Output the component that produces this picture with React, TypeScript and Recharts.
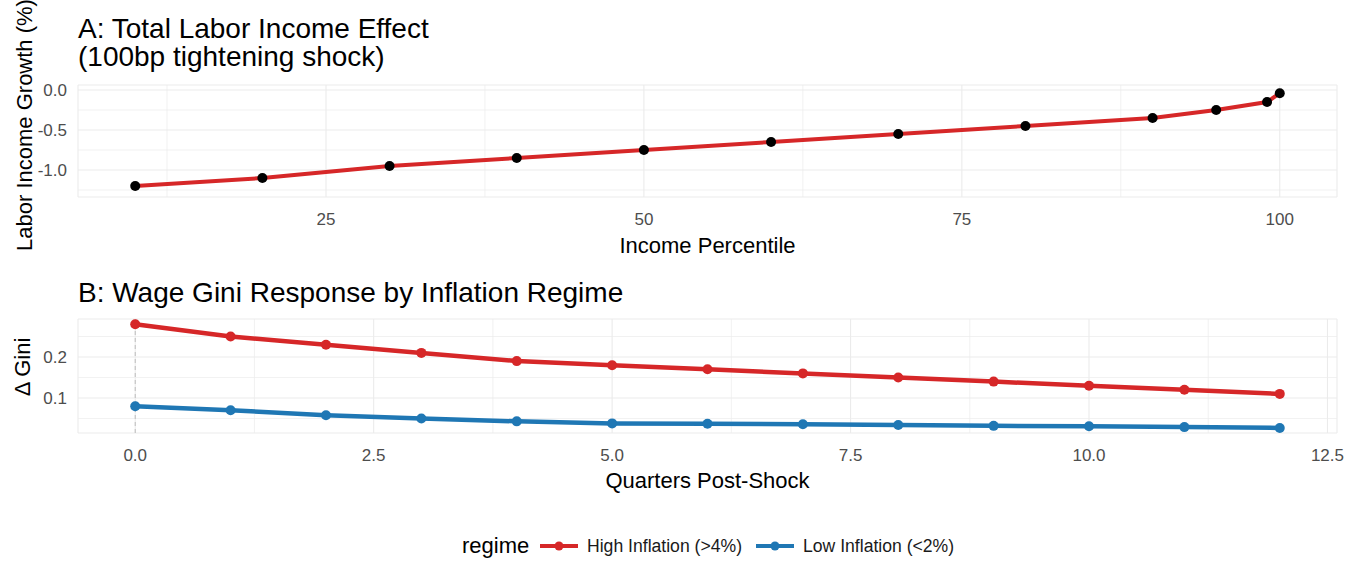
import React from 'react';
import { LineChart, Line, XAxis, YAxis, CartesianGrid, ReferenceLine } from 'recharts';

const FONT = '"Liberation Sans", Arial, sans-serif';

// Panel A: labor income growth by income percentile
const percentiles = [10, 20, 30, 40, 50, 60, 70, 80, 90, 95, 99, 100];
const laborIncomeGrowth = [-1.2, -1.1, -0.95, -0.85, -0.75, -0.65, -0.55, -0.45, -0.35, -0.25, -0.15, -0.04];

// Panel B: wage Gini response by regime
const quarters = [0, 1, 2, 3, 4, 5, 6, 7, 8, 9, 10, 11, 12];
const highInflation = [0.28, 0.25, 0.23, 0.21, 0.19, 0.18, 0.17, 0.16, 0.15, 0.14, 0.13, 0.12, 0.11];
const lowInflation = [0.08, 0.07, 0.058, 0.05, 0.043, 0.038, 0.037, 0.036, 0.034, 0.032, 0.031, 0.029, 0.027];

// ticks (major get labels + grid, minor only grid)
const pctlTicks = [25, 50, 75, 100];
const pctlMinor = [12.5, 37.5, 62.5, 87.5];
const growthTicks = [-1, -0.5, 0];
const growthMinor = [-1.25, -0.75, -0.25];
const quarterTicks = [0, 2.5, 5, 7.5, 10, 12.5];
const quarterMinor = [1.25, 3.75, 6.25, 8.75, 11.25];
const giniTicks = [0.1, 0.2];
const giniMinor = [0.05, 0.15, 0.25];

const regimes = [
  { key: 'high', name: 'High Inflation (>4%)', color: '#d62728' },
  { key: 'low', name: 'Low Inflation (<2%)', color: '#1f77b4' },
];

const incomeData = percentiles.map((p, i) => ({ pctl: p, growth: laborIncomeGrowth[i] }));
const giniData = quarters.map((q, i) => ({ q, high: highInflation[i], low: lowInflation[i] }));

const GRID = '#ebebeb';
const tickStyle = { fill: '#4d4d4d', fontSize: 17, fontFamily: FONT };
const fmt1 = (v: number) => v.toFixed(1);

export default function App() {
  return (
    <div style={{ position: 'absolute', left: 0, top: 0, width: 1360, height: 563, background: '#fff', fontFamily: FONT }}>
      {/* Panel A */}
      <div style={{ position: 'absolute', left: 0, top: 0 }}>
        <LineChart width={1360} height={250} data={incomeData} margin={{ top: 85, right: 23, bottom: 23, left: 8 }}>
          <CartesianGrid stroke={GRID} strokeWidth={1.1} />
          {pctlMinor.map((v) => (
            <ReferenceLine key={`ax${v}`} x={v} stroke={GRID} strokeWidth={0.7} />
          ))}
          {growthMinor.map((v) => (
            <ReferenceLine key={`ay${v}`} y={v} stroke={GRID} strokeWidth={0.7} />
          ))}
          <XAxis
            dataKey="pctl"
            type="number"
            domain={[5.5, 104.5]}
            ticks={pctlTicks}
            height={30}
            axisLine={false}
            tickLine={false}
            tickSize={0}
            tickMargin={16}
            tick={tickStyle}
            allowDataOverflow
          />
          <YAxis
            type="number"
            domain={[-1.3375, 0.0625]}
            ticks={growthTicks}
            tickFormatter={fmt1}
            width={70}
            axisLine={false}
            tickLine={false}
            tickSize={0}
            tickMargin={11}
            tick={tickStyle}
            allowDataOverflow
          />
          <Line
            dataKey="growth"
            type="linear"
            stroke="#d62728"
            strokeWidth={4}
            dot={{ r: 5, fill: '#000', stroke: 'none' }}
            isAnimationActive={false}
          />
        </LineChart>
      </div>

      {/* Panel B */}
      <div style={{ position: 'absolute', left: 0, top: 250 }}>
        <LineChart width={1360} height={313} data={giniData} margin={{ top: 69, right: 23, bottom: 100, left: 8 }}>
          <CartesianGrid stroke={GRID} strokeWidth={1.1} />
          {quarterMinor.map((v) => (
            <ReferenceLine key={`bx${v}`} x={v} stroke={GRID} strokeWidth={0.7} />
          ))}
          {giniMinor.map((v) => (
            <ReferenceLine key={`by${v}`} y={v} stroke={GRID} strokeWidth={0.7} />
          ))}
          <ReferenceLine x={0} stroke="#bdbdbd" strokeDasharray="4 3" strokeWidth={1} />
          <XAxis
            dataKey="q"
            type="number"
            domain={[-0.6, 12.6]}
            ticks={quarterTicks}
            tickFormatter={fmt1}
            height={30}
            axisLine={false}
            tickLine={false}
            tickSize={0}
            tickMargin={16}
            tick={tickStyle}
            allowDataOverflow
          />
          <YAxis
            type="number"
            domain={[0.0146, 0.2927]}
            ticks={giniTicks}
            tickFormatter={fmt1}
            width={70}
            axisLine={false}
            tickLine={false}
            tickSize={0}
            tickMargin={11}
            tick={tickStyle}
            allowDataOverflow
          />
          {regimes.map((r) => (
            <Line
              key={r.key}
              dataKey={r.key}
              name={r.name}
              type="linear"
              stroke={r.color}
              strokeWidth={4.5}
              dot={{ r: 5, fill: r.color, stroke: 'none' }}
              isAnimationActive={false}
            />
          ))}
        </LineChart>
      </div>

      {/* Titles, axis titles, legend */}
      <svg width={1360} height={563} style={{ position: 'absolute', left: 0, top: 0, pointerEvents: 'none' }}>
        <g fontFamily={FONT} fill="#000">
          <text x={78} y={38} fontSize={28}>A: Total Labor Income Effect</text>
          <text x={78} y={66} fontSize={28}>(100bp tightening shock)</text>
          <text x={78} y={302} fontSize={28}>B: Wage Gini Response by Inflation Regime</text>

          <text x={707.5} y={253} fontSize={22} textAnchor="middle">Income Percentile</text>
          <text x={707.5} y={488} fontSize={22} textAnchor="middle">Quarters Post-Shock</text>

          <text transform="translate(32,125) rotate(-90)" fontSize={22} textAnchor="middle">Labor Income Growth (%)</text>
          <text transform="translate(30,367) rotate(-90)" fontSize={22} textAnchor="middle">Δ Gini</text>

          <text x={462} y={553} fontSize={22}>regime</text>
          {regimes.map((r, i) => {
            const x0 = i === 0 ? 540 : 756;
            return (
              <g key={r.key}>
                <line x1={x0} x2={x0 + 38} y1={546} y2={546} stroke={r.color} strokeWidth={4} />
                <circle cx={x0 + 19} cy={546} r={4.5} fill={r.color} />
                <text x={x0 + 47} y={552} fontSize={17.6} fill="#1a1a1a">{r.name}</text>
              </g>
            );
          })}
        </g>
      </svg>
    </div>
  );
}
